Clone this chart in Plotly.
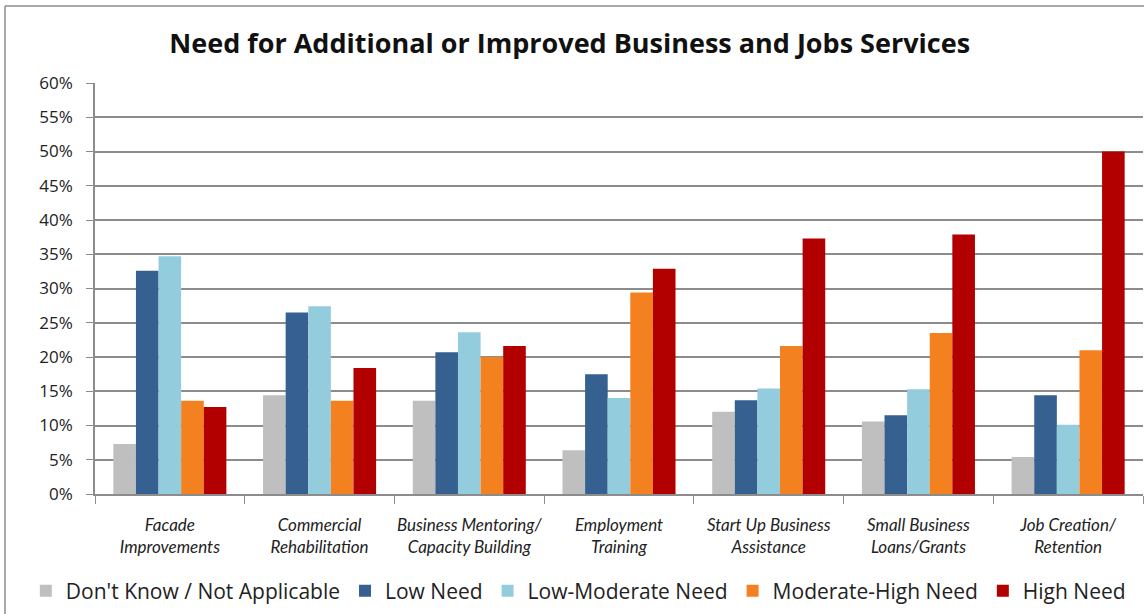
import plotly.graph_objects as go

categories = [
    "<i>Facade<br>Improvements</i>",
    "<i>Commercial<br>Rehabilitation</i>",
    "<i>Business Mentoring/<br>Capacity Building</i>",
    "<i>Employment<br>Training</i>",
    "<i>Start Up Business<br>Assistance</i>",
    "<i>Small Business<br>Loans/Grants</i>",
    "<i>Job Creation/<br>Retention</i>",
]
dont_know = [7.3, 14.4, 13.6, 6.4, 12.0, 10.6, 5.4]
low_need = [32.6, 26.5, 20.7, 17.5, 13.7, 11.5, 14.4]
low_moderate = [34.7, 27.4, 23.6, 14.0, 15.4, 15.3, 10.1]
moderate_high = [13.6, 13.6, 20.0, 29.4, 21.6, 23.5, 21.0]
high_need = [12.7, 18.4, 21.6, 32.9, 37.3, 37.9, 50.0]

series = [
    ("Don't Know / Not Applicable", dont_know, "#BFBFBF"),
    ("Low Need", low_need, "#35608F"),
    ("Low-Moderate Need", low_moderate, "#93CDDD"),
    ("Moderate-High Need", moderate_high, "#F4811F"),
    ("High Need", high_need, "#B20000"),
]

font_family = "'Open Sans', Lato, sans-serif"

fig = go.Figure()
for name, vals, color in series:
    fig.add_trace(go.Bar(name=name, x=categories, y=vals, marker_color=color,
                         marker_line_width=0))

fig.update_layout(
    width=1144, height=614,
    barmode="group", bargap=0.245, bargroupgap=0,
    paper_bgcolor="white", plot_bgcolor="white",
    margin=dict(l=95, r=1, t=83, b=120, autoexpand=False),
    font=dict(family=font_family, color="#222222"),
    title=dict(text="<b>Need for Additional or Improved Business and Jobs Services</b>",
               x=0.498, xref="container", xanchor="center",
               y=1 - 44 / 614, yref="container", yanchor="middle",
               font=dict(size=27, color="#111111")),
    legend=dict(orientation="h", x=-0.066, xanchor="left", y=-0.236, yanchor="middle",
                font=dict(size=21, color="#222222"), traceorder="normal",
                itemwidth=30, bgcolor="rgba(0,0,0,0)"),
    showlegend=True,
)
fig.update_yaxes(range=[0, 60], dtick=5, ticksuffix="%",
                 showgrid=True, gridcolor="#8C8C8C", gridwidth=1.5,
                 showline=True, linecolor="#8C8C8C", linewidth=1.5,
                 ticks="outside", ticklen=7, tickcolor="#8C8C8C",
                 ticklabelstandoff=10, automargin=False,
                 tickfont=dict(size=17, color="#222222"), zeroline=False,
                 fixedrange=True)
fig.update_xaxes(showline=True, linecolor="#8C8C8C", linewidth=1.5,
                 ticks="outside", tickson="boundaries", ticklen=8, tickcolor="#8C8C8C",
                 ticklabelstandoff=15, tickangle=0, automargin=False,
                 tickfont=dict(size=17, color="#222222",
                               family="Lato, 'Open Sans', sans-serif"),
                 fixedrange=True)

# outer chart border (left and top visible edges)
fig.add_shape(type="line", xref="paper", yref="paper",
              x0=(5 - 95) / 1048, x1=(5 - 95) / 1048,
              y0=1 + (83 - 6) / 411, y1=-0.4,
              line=dict(color="#8C8C8C", width=1.5))
fig.add_shape(type="line", xref="paper", yref="paper",
              x0=(5 - 95) / 1048, x1=1.05,
              y0=1 + (83 - 6) / 411, y1=1 + (83 - 6) / 411,
              line=dict(color="#8C8C8C", width=1.5))

fig.write_html("out.html")
